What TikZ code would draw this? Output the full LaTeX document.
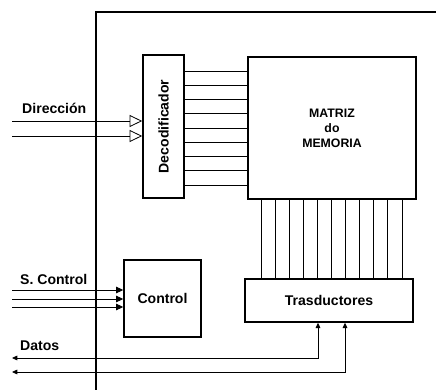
\documentclass[tikz,border=0pt]{standalone}
\usepackage{fontspec}
\setmainfont{Liberation Sans}
\usetikzlibrary{arrows.meta,positioning,calc}
\tikzset{
  >={Triangle[length=4.5pt,width=4pt]},
  block/.style={rectangle,draw,line width=1.3pt,inner sep=0pt,font=\bfseries\fontsize{12}{14}\selectfont},
  frame/.style={line width=1.3pt},
  wire/.style={line width=0.7pt},
  bus/.style={wire,-{Triangle[open,length=3.8mm,width=3.6mm]}},
  ctl/.style={wire,-{Triangle[length=6pt,width=5.5pt]}},
  dat/.style={wire,<->},
  lbl/.style={font=\bfseries\fontsize{12}{14}\selectfont,anchor=west,inner sep=0pt}
}

\begin{document}
\begin{tikzpicture}[x=0.3mm,y=-0.3mm]
  \useasboundingbox (0,0) rectangle (436,390);
  % Frame of the chip
  \draw[frame] (436,12) -| (96,390);

  % Blocks
  \node[block,rotate=90,minimum width=42.9mm,minimum height=12.3mm] (deco) at (163.5,126.5) {Decodificador};
  \node[block,minimum width=50.4mm,minimum height=42.6mm,align=center,
        font=\bfseries\fontsize{10.5}{12.8}\selectfont] (matriz) at (332,128) {MATRIZ\\do\\MEMORIA};
  \node[block,minimum width=50.4mm,minimum height=12.9mm] (trans) at (329,300.5) {Trasductores};
  \node[block,minimum width=23.1mm,minimum height=23.1mm] (ctrl) at (162.5,298.5) {Control};

  % Word lines and bit lines
  \foreach \i in {0,...,8}
    \draw[wire] (deco.south |- 0,{71+\i*14.25}) -- (matriz.west |- 0,{71+\i*14.25});
  \foreach \i in {0,...,10}
    \draw[wire] (matriz.south -| {261+\i*14.1},0) -- (trans.north -| {261+\i*14.1},0);

  % Outside signals
  \coordinate (dir1) at (12,121);
  \coordinate (dir2) at (12,136);
  \coordinate (sc1) at (12,290);
  \coordinate (sc2) at (12,299);
  \coordinate (sc3) at (12,307);
  \coordinate (dat1) at (12,358);
  \coordinate (dat2) at (12,372);

  \node[lbl] (ldir) at (22,108) {Dirección};
  \node[lbl] (lsc) at (20,279) {S. Control};
  \node[lbl] (ldat) at (20,346) {Datos};

  \foreach \n in {dir1,dir2}
    \draw[bus] (\n) -- (\n -| deco.north);
  \foreach \n in {sc1,sc2,sc3}
    \draw[ctl] (\n) -- (\n -| ctrl.west);
  \draw[dat] (dat1) -| ($(trans.south)+(-11,0)$);
  \draw[dat] (dat2) -| ($(trans.south)+(16,0)$);
\end{tikzpicture}
\end{document}
